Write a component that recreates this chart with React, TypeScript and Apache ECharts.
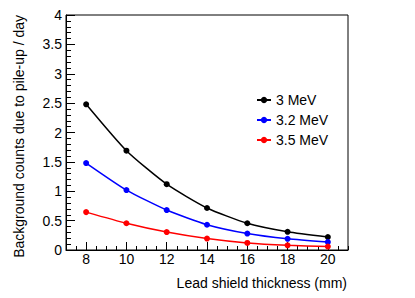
import React, { useEffect, useRef } from "react";
import * as echarts from "echarts";

const thickness = [8, 10, 12, 14, 16, 18, 20];
const mev3 = [2.48, 1.69, 1.12, 0.715, 0.455, 0.31, 0.22];
const mev32 = [1.48, 1.02, 0.68, 0.43, 0.28, 0.19, 0.135];
const mev35 = [0.645, 0.455, 0.305, 0.195, 0.12, 0.08, 0.058];
const seriesNames = ["3 MeV", "3.2 MeV", "3.5 MeV"];
const seriesColors = ["#000000", "#0000ff", "#ff0000"];
const xMajorTicks = [8, 10, 12, 14, 16, 18, 20];
const xTitle = "Lead shield thickness (mm)";
const yTitle = "Background counts due to pile-up / day";

const FONT = "'Liberation Sans', Arial, Helvetica, sans-serif";

export default function App() {
  const ref = useRef<HTMLDivElement>(null);
  useEffect(() => {
    if (!ref.current) return;
    const chart = echarts.init(ref.current, undefined, { renderer: "svg" });
    const allValues = [mev3, mev32, mev35];
    const series = allValues.map((vals, i) => ({
      name: seriesNames[i],
      type: "line",
      smooth: 0.2,
      xAxisIndex: 0,
      data: thickness.map((t, j) => [t, vals[j]]),
      symbol: "circle",
      symbolSize: 6,
      itemStyle: { color: seriesColors[i] },
      lineStyle: { color: seriesColors[i], width: 1.5 },
    }));
    chart.setOption({
      animation: false,
      backgroundColor: "#ffffff",
      textStyle: { fontFamily: FONT },
      grid: {
        left: 66,
        right: 67,
        top: 15,
        bottom: 48,
        show: true,
        borderColor: "#000000",
        borderWidth: 1,
        containLabel: false,
      },
      legend: {
        orient: "vertical",
        left: 251,
        top: 88,
        itemWidth: 14,
        itemHeight: 8,
        itemGap: 6,
        data: seriesNames,
        textStyle: { fontSize: 14, color: "#000", fontFamily: FONT },
      },
      xAxis: [
        {
          type: "value",
          min: 7,
          max: 21,
          interval: 0.5,
          position: "bottom",
          axisLine: { show: true, onZero: false, lineStyle: { color: "#000", width: 1 } },
          axisTick: {
            show: true,
            inside: true,
            length: 8,
            customValues: xMajorTicks,
            lineStyle: { color: "#000" },
          },
          axisLabel: {
            customValues: xMajorTicks,
            fontSize: 14,
            color: "#000",
            margin: 2,
            fontFamily: FONT,
          },
          splitLine: { show: false },
        },
        {
          type: "value",
          min: 7,
          max: 21,
          interval: 0.5,
          position: "bottom",
          axisLine: { show: false, onZero: false },
          axisTick: { show: true, inside: true, length: 4, lineStyle: { color: "#000" } },
          axisLabel: { show: false },
          splitLine: { show: false },
        },
      ],
      yAxis: {
        type: "value",
        min: 0,
        max: 4,
        interval: 0.5,
        axisLine: { show: true, onZero: false, lineStyle: { color: "#000", width: 1 } },
        axisTick: { show: true, inside: true, length: 9, lineStyle: { color: "#000" } },
        minorTick: { show: true, splitNumber: 5, length: 5, lineStyle: { color: "#000" } },
        axisLabel: { fontSize: 14, color: "#000", margin: 4, fontFamily: FONT },
        splitLine: { show: false },
        minorSplitLine: { show: false },
      },
      graphic: [
        {
          type: "text",
          x: 19,
          y: 15,
          rotation: Math.PI / 2,
          style: {
            text: yTitle,
            fontSize: 14,
            fontFamily: FONT,
            fill: "#000",
            align: "right",
            verticalAlign: "middle",
          },
        },
        {
          type: "text",
          x: 347,
          y: 283,
          style: {
            text: xTitle,
            fontSize: 14,
            fontFamily: FONT,
            fill: "#000",
            align: "right",
            verticalAlign: "middle",
          },
        },
      ],
      series,
    });
    return () => chart.dispose();
  }, []);
  return (
    <div
      ref={ref}
      style={{ position: "absolute", left: 0, top: 0, width: 415, height: 298, background: "#fff" }}
    />
  );
}
